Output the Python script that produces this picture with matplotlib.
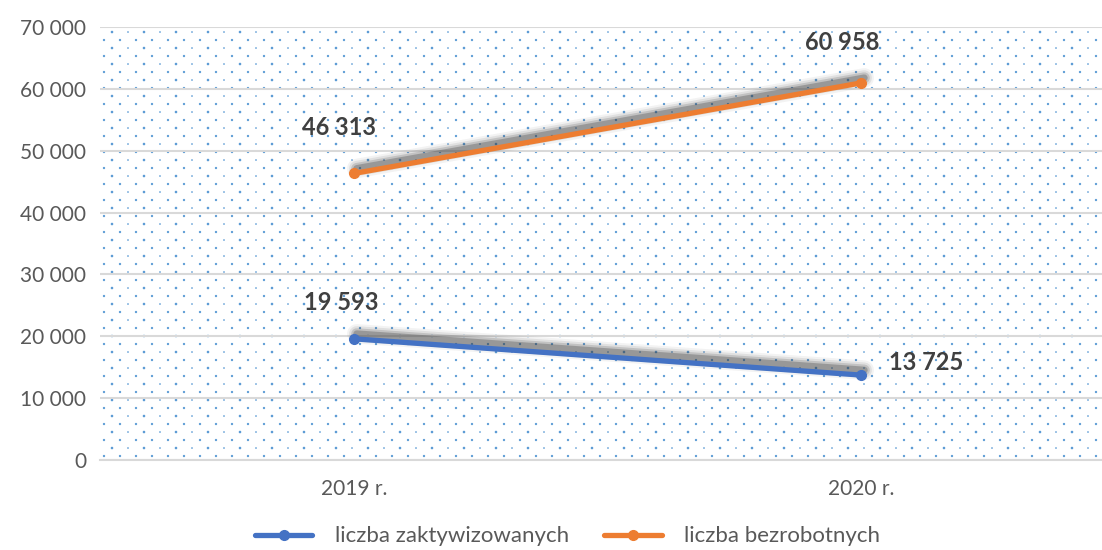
import numpy as np
import matplotlib.pyplot as plt
import matplotlib.transforms as mtransforms
from matplotlib.ticker import FuncFormatter

plt.rcParams['font.family'] = ['Lato', 'DejaVu Sans']

years = ['2019 r.', '2020 r.']
zaktywizowanych = [19593, 13725]
bezrobotnych = [46313, 60958]
series_names = ['liczba zaktywizowanych', 'liczba bezrobotnych']
colors = ['#4472C4', '#ED7D31']

W, H = 1102, 550
fig = plt.figure(figsize=(W / 100, H / 100), dpi=100)
# plot area runs off the right edge of the picture, as in the source
ax_box = [100 / W, 0.1636, 1015 / W, 0.7874]
ax = fig.add_axes(ax_box)

# dotted background texture (rows 8 px apart, dots 16 px apart, staggered)
aw, ah = ax_box[2] * W, ax_box[3] * H
rows = np.arange(4, ah, 8)
px, py, sz = [], [], []
for k, r in enumerate(rows):
    cols = np.arange(8 if k % 2 else 0, aw, 16) + 4
    px.extend(cols / aw)
    py.extend([r / ah] * len(cols))
    if k % 2:
        sz.extend([3.5 if j % 2 == 0 else 1.5 for j in range(len(cols))])
    else:
        sz.extend([2.8] * len(cols))
ax.scatter(px, py, s=sz, color='#5b9bd5', lw=0, transform=ax.transAxes,
           zorder=0.5, clip_on=True)

x = list(range(len(years)))

# soft shadow above the lines
for vals in [zaktywizowanych, bezrobotnych]:
    for lw, a in [(14, 0.06), (11, 0.10), (8, 0.18), (5, 0.30)]:
        tr = mtransforms.offset_copy(ax.transData, fig=fig, x=3, y=5, units='dots')
        ax.plot(x, vals, color='#3a3a3a', lw=lw, alpha=a, solid_capstyle='round',
                transform=tr, zorder=2)

for vals, c, name in zip([zaktywizowanych, bezrobotnych], colors, series_names):
    ax.plot(x, vals, color=c, lw=3.8, marker='o', ms=7, label=name,
            solid_capstyle='round', zorder=3)

# data labels
label_offsets = {
    (0, 0): (-12, 36), (0, 1): (28, 13),
    (1, 0): (-15, 46), (1, 1): (-19, 40),
}
for si, vals in enumerate([zaktywizowanych, bezrobotnych]):
    for i, v in enumerate(vals):
        dx, dy = label_offsets[(si, i)]
        ax.annotate(f'{v:,}'.replace(',', ' '), (i, v), xytext=(dx, dy),
                    textcoords='offset pixels', ha='left' if (si, i) == (0, 1) else 'center',
                    va='center', fontsize=17, fontweight='bold', color='#404040', zorder=4)

ax.set_xlim(-0.5, 1.5)
ax.set_ylim(0, 70000)
ax.set_yticks(range(0, 70001, 10000))
ax.yaxis.set_major_formatter(FuncFormatter(lambda v, p: f'{int(v):,}'.replace(',', ' ')))
ax.set_xticks(x)
ax.set_xticklabels(years)
ax.tick_params(axis='both', length=0, labelsize=15, colors='#595959')
ax.tick_params(axis='x', pad=14)
ax.tick_params(axis='y', pad=10)
ax.grid(axis='y', color='#d9d9d9', lw=1.5, zorder=1)
ax.set_axisbelow(True)
for s in ['top', 'right', 'left']:
    ax.spines[s].set_visible(False)
ax.spines['bottom'].set_color('#d9d9d9')
ax.spines['bottom'].set_linewidth(1.5)

fig.legend(loc='lower center', bbox_to_anchor=(0.515, -0.03), ncol=2, frameon=False,
           fontsize=16, labelcolor='#595959', handlelength=2.6, columnspacing=1.6,
           handletextpad=1.0)

fig.savefig('out.png', dpi=100)
